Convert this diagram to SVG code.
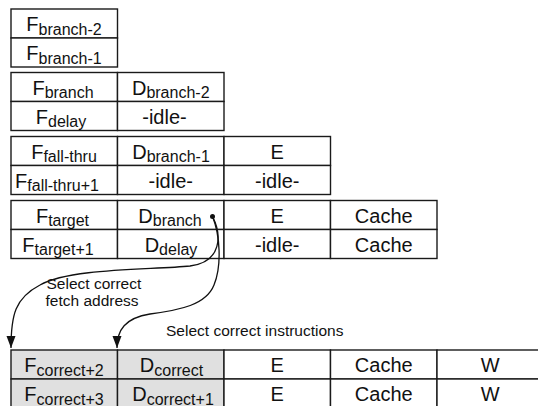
<svg xmlns="http://www.w3.org/2000/svg" width="538" height="406" viewBox="0 0 538 406">
  <style>
    .cell { fill: #ffffff; stroke: #1a1a1a; stroke-width: 1.4; }
    .shade { fill: #e0e0e0; stroke: #1a1a1a; stroke-width: 1.4; }
    .t { font-family: "Liberation Sans", Arial, sans-serif; font-size: 20px; fill: #111; text-anchor: middle; }
    .lbl { font-family: "Liberation Sans", Arial, sans-serif; font-size: 15.5px; fill: #111; }
    .wire { fill: none; stroke: #111; stroke-width: 1.3; }
  </style>
  <defs>
    <marker id="head" markerUnits="userSpaceOnUse" markerWidth="14" markerHeight="10" refX="12" refY="4.5" orient="auto">
      <path d="M0,0 L12,4.5 L0,9 z" fill="#111"/>
    </marker>
  </defs>

  <rect width="538" height="406" fill="#ffffff"/>

  <!-- stage group 1: two fetches before the branch -->
  <g id="group-pre-branch">
    <rect class="cell" x="11" y="9" width="106.5" height="29"/>
    <rect class="cell" x="11" y="38" width="106.5" height="29"/>
    <text class="t" x="64" y="31">F<tspan font-size="16" dy="3.5">branch-2</tspan></text>
    <text class="t" x="64" y="60">F<tspan font-size="16" dy="3.5">branch-1</tspan></text>
  </g>

  <!-- stage group 2: branch fetch and delay slot -->
  <g id="group-branch">
    <rect class="cell" x="11" y="72.5" width="106.5" height="29"/>
    <rect class="cell" x="117.5" y="72.5" width="106.5" height="29"/>
    <rect class="cell" x="11" y="101.5" width="106.5" height="29"/>
    <rect class="cell" x="117.5" y="101.5" width="106.5" height="29"/>
    <text class="t" x="63" y="94.5">F<tspan font-size="16" dy="3.5">branch</tspan></text>
    <text class="t" x="170.75" y="94.5">D<tspan font-size="16" dy="3.5">branch-2</tspan></text>
    <text class="t" x="61" y="123.5">F<tspan font-size="16" dy="3.5">delay</tspan></text>
    <text class="t" x="164.5" y="123.5">-idle-</text>
  </g>

  <!-- stage group 3: fall-through path -->
  <g id="group-fall-thru">
    <rect class="cell" x="11" y="136.5" width="106.5" height="29"/>
    <rect class="cell" x="117.5" y="136.5" width="106.5" height="29"/>
    <rect class="cell" x="224" y="136.5" width="106.5" height="29"/>
    <rect class="cell" x="11" y="165.5" width="106.5" height="29"/>
    <rect class="cell" x="117.5" y="165.5" width="106.5" height="29"/>
    <rect class="cell" x="224" y="165.5" width="106.5" height="29"/>
    <text class="t" x="64" y="158.5">F<tspan font-size="16" dy="3.5">fall-thru</tspan></text>
    <text class="t" x="171" y="158.5">D<tspan font-size="16" dy="3.5">branch-1</tspan></text>
    <text class="t" x="277.25" y="158.5">E</text>
    <text class="t" x="57" y="187.5">F<tspan font-size="16" dy="3.5">fall-thru+1</tspan></text>
    <text class="t" x="170.75" y="187.5">-idle-</text>
    <text class="t" x="277.25" y="187.5">-idle-</text>
  </g>

  <!-- stage group 4: target path -->
  <g id="group-target">
    <rect class="cell" x="11" y="200.5" width="106.5" height="29"/>
    <rect class="cell" x="117.5" y="200.5" width="106.5" height="29"/>
    <rect class="cell" x="224" y="200.5" width="106.5" height="29"/>
    <rect class="cell" x="330.5" y="200.5" width="106.5" height="29"/>
    <rect class="cell" x="11" y="229.5" width="106.5" height="29"/>
    <rect class="cell" x="117.5" y="229.5" width="106.5" height="29"/>
    <rect class="cell" x="224" y="229.5" width="106.5" height="29"/>
    <rect class="cell" x="330.5" y="229.5" width="106.5" height="29"/>
    <text class="t" x="62.5" y="222.5">F<tspan font-size="16" dy="3.5">target</tspan></text>
    <text class="t" x="170" y="222.5">D<tspan font-size="16" dy="3.5">branch</tspan></text>
    <text class="t" x="277.25" y="222.5">E</text>
    <text class="t" x="383.75" y="222.5">Cache</text>
    <text class="t" x="58" y="251.5">F<tspan font-size="16" dy="3.5">target+1</tspan></text>
    <text class="t" x="171" y="251.5">D<tspan font-size="16" dy="3.5">delay</tspan></text>
    <text class="t" x="277.25" y="251.5">-idle-</text>
    <text class="t" x="383.75" y="251.5">Cache</text>
  </g>

  <!-- stage group 5: corrected path -->
  <g id="group-correct">
    <rect class="shade" x="11" y="350" width="106.5" height="29"/>
    <rect class="shade" x="117.5" y="350" width="106.5" height="29"/>
    <rect class="cell" x="224" y="350" width="106.5" height="29"/>
    <rect class="cell" x="330.5" y="350" width="106.5" height="29"/>
    <rect class="cell" x="437" y="350" width="106.5" height="29"/>
    <rect class="shade" x="11" y="379" width="106.5" height="29"/>
    <rect class="shade" x="117.5" y="379" width="106.5" height="29"/>
    <rect class="cell" x="224" y="379" width="106.5" height="29"/>
    <rect class="cell" x="330.5" y="379" width="106.5" height="29"/>
    <rect class="cell" x="437" y="379" width="106.5" height="29"/>
    <text class="t" x="64" y="372">F<tspan font-size="16" dy="3.5">correct+2</tspan></text>
    <text class="t" x="171.5" y="372">D<tspan font-size="16" dy="3.5">correct</tspan></text>
    <text class="t" x="277.25" y="372">E</text>
    <text class="t" x="383.75" y="372">Cache</text>
    <text class="t" x="490.25" y="372">W</text>
    <text class="t" x="64" y="401">F<tspan font-size="16" dy="3.5">correct+3</tspan></text>
    <text class="t" x="173" y="401">D<tspan font-size="16" dy="3.5">correct+1</tspan></text>
    <text class="t" x="277.25" y="401">E</text>
    <text class="t" x="383.75" y="401">Cache</text>
    <text class="t" x="490.25" y="401">W</text>
  </g>

  <!-- selection wires from the branch decode -->
  <g id="connectors">
    <circle cx="212.5" cy="216.5" r="2.5" fill="#111"/>
    <path class="wire" marker-end="url(#head)" d="M212.5,216.5 C222,235 222,262 190,266 C150,270 70,268 40,285 C15,298 11,315 11,348"/>
    <path class="wire" marker-end="url(#head)" d="M212.5,216.5 C220,235 222,265 214,285 C206,305 180,310 150,314 C125,318 117,330 117,348"/>
    <text class="lbl" x="46.5" y="289">Select correct</text>
    <text class="lbl" x="45.5" y="306">fetch address</text>
    <text class="lbl" x="166" y="336">Select correct instructions</text>
  </g>
</svg>
